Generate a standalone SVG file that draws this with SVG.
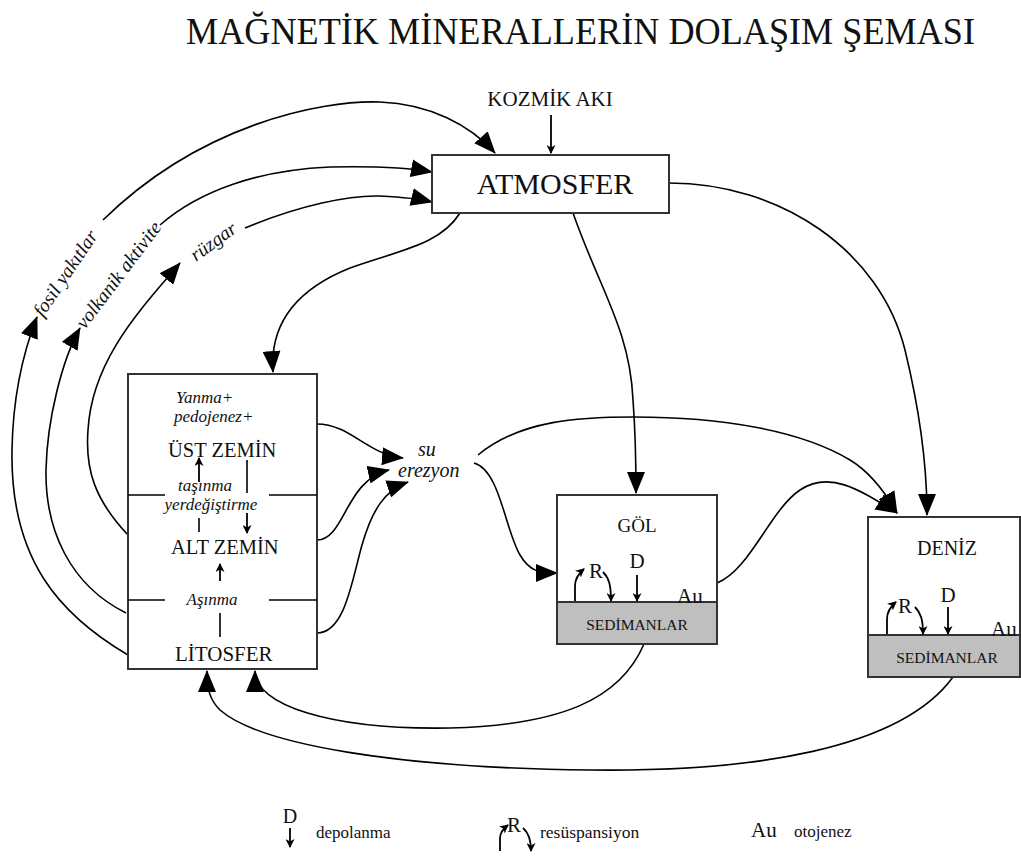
<svg xmlns="http://www.w3.org/2000/svg" width="1021" height="857" viewBox="0 0 1021 857">
<defs>
<marker id="ah" markerUnits="userSpaceOnUse" markerWidth="22" markerHeight="18" refX="21" refY="9" orient="auto"><path d="M0,0 L22,9 L0,18 z" fill="#000"/></marker>
<marker id="sa" markerUnits="userSpaceOnUse" markerWidth="9" markerHeight="9" refX="8" refY="4.5" orient="auto"><path d="M0,0 L9,4.5 L0,9 L2.5,4.5 z" fill="#000"/></marker>
<style>
.t{font-family:"Liberation Serif","Times New Roman",serif;fill:#111}
.i{font-family:"Liberation Serif","Times New Roman",serif;font-style:italic;fill:#111}
.box{fill:#fff;stroke:#333;stroke-width:2}
.sed{fill:#bfbfbf;stroke:#333;stroke-width:2}
.ln{fill:none;stroke:#000;stroke-width:1.6}
.ar{fill:none;stroke:#000;stroke-width:1.6;marker-end:url(#ah)}
.sm{fill:none;stroke:#000;stroke-width:1.8;marker-end:url(#sa)}
</style>
</defs>
<rect width="1021" height="857" fill="#fff"/>
<text class="t" x="186" y="44" font-size="38" textLength="789" lengthAdjust="spacingAndGlyphs">MAĞNETİK MİNERALLERİN DOLAŞIM ŞEMASI</text>

<g id="connectors">
<path class="ar" d="M128,655 C60,615 10,560 12,450 C13,390 26,345 37,317"/>
<path class="ar" d="M103,220 C200,125 320,100 380,102 C430,104 470,125 495,153"/>
<path class="ar" d="M126,613 C70,585 45,530 46,470 C47,420 62,360 80,328"/>
<path class="ar" d="M160,225 C200,190 260,170 330,167 C380,166 410,168 432,172"/>
<path class="ar" d="M128,535 C95,500 85,470 88,430 C92,360 140,310 180,263"/>
<path class="ar" d="M245,228 C300,205 350,195 380,196 C400,197 420,199 432,202"/>
<path class="ar" d="M460,213 C440,245 400,250 350,268 C290,292 270,330 273,372"/>
<path class="sm" d="M551,115 L551,153"/>
<path class="ar" d="M573,213 C600,290 630,330 633,400 C636,440 636,470 636,493"/>
<path class="ar" d="M669,183 C780,183 880,250 905,350 C922,420 927,470 927,515"/>
<path class="ar" d="M317,424 C350,424 368,455 403,458"/>
<path class="ar" d="M317,540 C345,540 345,480 389,470"/>
<path class="ar" d="M317,633 C345,633 352,580 362,545 C372,510 385,490 408,482"/>
<path class="ar" d="M478,455 C520,420 580,417 634,417 C720,417 800,430 850,460 C870,472 885,492 897,513"/>
<path class="ar" d="M717,583 C750,570 770,510 800,490 C830,470 860,490 897,513"/>
<path class="ar" d="M474,463 C500,470 505,530 520,555 C530,572 540,573 557,573"/>
<path class="ar" d="M644,644 C620,700 560,725 450,728 C330,730 255,705 255,671"/>
<path class="ar" d="M953,677 C900,750 750,772 590,770 C400,768 260,745 220,710 C210,700 207,690 207,671"/>
</g>

<text class="i" font-size="19.5" transform="translate(43,318) rotate(-56)">fosil yakıtlar</text>
<text class="i" font-size="19.5" transform="translate(85,330) rotate(-53)">volkanik aktivite</text>
<text class="i" font-size="19.5" transform="translate(196,262) rotate(-36)">rüzgar</text>

<g id="kozmik">
<text class="t" x="550" y="106" font-size="21" text-anchor="middle">KOZMİK AKI</text>
</g>

<g id="atmosfer">
<rect class="box" x="432" y="155" width="237" height="58"/>
<text class="t" x="555" y="194" font-size="30" text-anchor="middle">ATMOSFER</text>
</g>

<g id="zemin">
<rect class="box" x="128" y="374" width="189" height="295"/>
<path class="ln" d="M128,495 H165 M269,495 H317 M128,600 H165 M269,600 H317"/>
<text class="i" x="176" y="403" font-size="17">Yanma+</text>
<text class="i" x="174" y="422" font-size="17">pedojenez+</text>
<text class="t" x="168" y="457" font-size="20.5">ÜST ZEMİN</text>
<text class="i" x="205" y="491" font-size="17" text-anchor="middle">taşınma</text>
<text class="i" x="211" y="510" font-size="17" text-anchor="middle">yerdeğiştirme</text>
<text class="t" x="171" y="554" font-size="20.5">ALT ZEMİN</text>
<text class="i" x="212" y="605" font-size="17" text-anchor="middle">Aşınma</text>
<text class="t" x="175" y="661" font-size="21">LİTOSFER</text>
<path class="sm" d="M199,482 L199,458"/>
<path class="ln" d="M199,518 L199,532"/>
<path class="ln" d="M247,460 L247,493"/>
<path class="sm" d="M247,513 L247,533"/>
<path class="sm" d="M220,581 L220,564"/>
<path class="ln" d="M220,613 L220,637"/>
</g>

<g id="erezyon">
<text class="i" x="418" y="456" font-size="20">su</text>
<text class="i" x="398" y="477" font-size="20">erezyon</text>
</g>

<g id="gol">
<rect class="box" x="557" y="495" width="160" height="107"/>
<rect class="sed" x="557" y="602" width="160" height="42"/>
<text class="t" x="637" y="532" font-size="19" text-anchor="middle">GÖL</text>
<text class="t" x="637" y="630" font-size="15.5" text-anchor="middle">SEDİMANLAR</text>
<text class="t" x="589" y="578" font-size="21">R</text>
<text class="t" x="637" y="568" font-size="21" text-anchor="middle">D</text>
<text class="t" x="677" y="603" font-size="21">Au</text>
<path class="sm" d="M575,601 L575,586 C575,579 578,574 584,569"/>
<path class="sm" d="M603,572 C609,578 611,585 611,601"/>
<path class="sm" d="M637,575 L637,601"/>
</g>

<g id="deniz">
<rect class="box" x="868" y="517" width="152" height="118"/>
<rect class="sed" x="868" y="635" width="152" height="42"/>
<text class="t" x="947" y="555" font-size="20" text-anchor="middle">DENİZ</text>
<text class="t" x="947" y="663" font-size="15.5" text-anchor="middle">SEDİMANLAR</text>
<text class="t" x="898" y="613" font-size="21">R</text>
<text class="t" x="948" y="602" font-size="21" text-anchor="middle">D</text>
<text class="t" x="991" y="636" font-size="21">Au</text>
<path class="sm" d="M887,634 L887,619 C887,612 890,607 896,602"/>
<path class="sm" d="M915,607 C921,613 923,620 923,634"/>
<path class="sm" d="M948,607 L948,634"/>
</g>

<g id="legend">
<text class="t" x="290" y="823" font-size="20" text-anchor="middle">D</text>
<path class="sm" d="M290,828 L290,847"/>
<text class="t" x="316" y="838" font-size="17">depolanma</text>
<path class="sm" d="M500,851 L500,838 C500,833 503,829 508,825"/>
<text class="t" x="507" y="832" font-size="21">R</text>
<path class="sm" d="M523,828 C529,833 531,840 531,851"/>
<text class="t" x="540" y="838" font-size="17.5">resüspansiyon</text>
<text class="t" x="751" y="837" font-size="21">Au</text>
<text class="t" x="794" y="837" font-size="17">otojenez</text>
</g>
</svg>
